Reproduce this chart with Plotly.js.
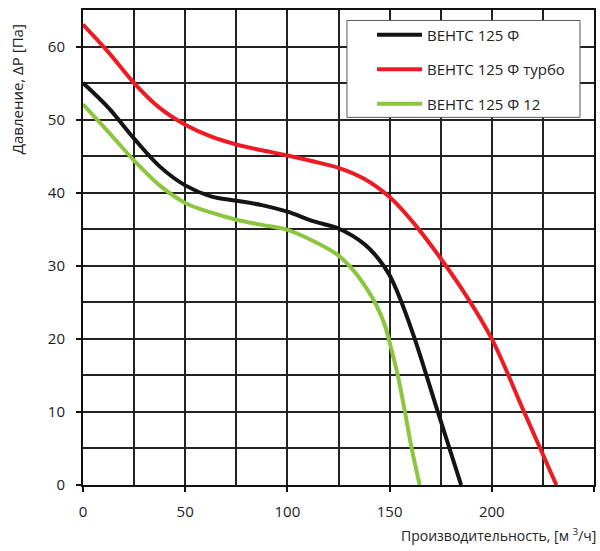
<!DOCTYPE html>
<html>
<head>
<meta charset="utf-8">
<script src="https://cdn.plot.ly/plotly-3.0.1.min.js"></script>
<style>
  body { margin: 0; background: #fff; }
  #chart { width: 600px; height: 551px; }
</style>
</head>
<body>
<div id="chart"></div>
<script>
// расход, м3/ч и давление, Па
let qBase = [0, 12.5, 25, 37.5, 50, 62.5, 75, 87.5, 100, 112.5, 125, 137.5, 145, 150, 155, 162.3, 173.6, 185]
let pBase = [55, 51.6, 47.4, 43.6, 41.0, 39.5, 38.9, 38.3, 37.4, 36.1, 35.1, 33.0, 30.8, 28.7, 25.6, 20, 10, 0]

let qTurbo = [0, 12.5, 25, 37.5, 50, 62.5, 75, 87.5, 100, 112.5, 125, 137.5, 150, 162.5, 175, 187.5, 200, 215.8, 231.6]
let pTurbo = [63, 59.2, 55, 51.6, 49.3, 47.7, 46.6, 45.8, 45.1, 44.3, 43.4, 41.9, 39.4, 35.6, 31.0, 25.9, 20, 10, 0]

let q12 = [0, 12.5, 25, 37.5, 50, 62.5, 75, 87.5, 100, 112.5, 125, 132.5, 138.5, 143.5, 147.5, 150.5, 154, 157.3, 160.8, 164.7]
let p12 = [52.1, 48.3, 44.4, 41, 38.6, 37.3, 36.3, 35.6, 34.9, 33.4, 31.4, 29.3, 27, 24.6, 22, 19, 15, 10.3, 5, 0]

let names = ['ВЕНТС 125 Ф', 'ВЕНТС 125 Ф турбо', 'ВЕНТС 125 Ф 12']
let colors = ['#141414', '#ec1c24', '#8cc63f']

let fontName = '"Open Sans", "DejaVu Sans", sans-serif'

function makeTrace(x, y, i) {
    return {
        x: x,
        y: y,
        mode: 'lines',
        line: {color: colors[i], width: 4, shape: 'spline', smoothing: 1},
        name: names[i],
        legendgroup: 'g' + i
    }
}

var veri = [
    makeTrace(qBase, pBase, 0),
    makeTrace(qTurbo, pTurbo, 1),
    makeTrace(q12, p12, 2)
]

var layout = {
    width: 600,
    height: 551,
    margin: {l: 83, r: 6, t: 10, b: 66},
    paper_bgcolor: '#fff',
    plot_bgcolor: '#fff',
    font: {family: fontName, size: 15, color: '#222'},
    showlegend: true,

    xaxis: {
        range: [0, 250],
        dtick: 50,
        tick0: 0,
        showgrid: true,
        gridcolor: '#222',
        gridwidth: 1.5,
        minor: {dtick: 25, showgrid: true, gridcolor: '#222', gridwidth: 1.5},
        zeroline: false,
        showline: true,
        mirror: true,
        linecolor: '#111',
        linewidth: 2,
        ticks: 'outside',
        ticklen: 5,
        tickwidth: 1.5,
        tickcolor: '#111',
        ticklabelstandoff: 7
    },

    yaxis: {
        range: [0, 65],
        dtick: 10,
        tick0: 0,
        showgrid: true,
        gridcolor: '#222',
        gridwidth: 1.5,
        minor: {dtick: 5, showgrid: true, gridcolor: '#222', gridwidth: 1.5},
        zeroline: false,
        showline: true,
        mirror: true,
        linecolor: '#111',
        linewidth: 2,
        ticks: 'outside',
        ticklen: 5,
        tickwidth: 1.5,
        tickcolor: '#111',
        ticklabelstandoff: 8
    },

    // рамка легенды
    shapes: [
        {
            type: 'rect',
            xref: 'paper', yref: 'paper',
            x0: 0.5166, x1: 0.9726,
            y0: 0.774, y1: 0.978,
            line: {color: '#555', width: 1},
            fillcolor: '#fff',
            layer: 'above'
        }
    ],

    legend: {
        x: 0.5656,
        y: 0.982,
        xanchor: 'left',
        yanchor: 'top',
        bgcolor: 'rgba(0,0,0,0)',
        borderwidth: 0,
        font: {family: fontName, size: 15, color: '#222'},
        traceorder: 'grouped',
        tracegroupgap: 12,
        itemwidth: 45
    },

    annotations: [
        {
            text: 'Давление, ΔP [Па]',
            xref: 'paper', yref: 'paper',
            x: 0, y: 0.833,
            xshift: -66,
            xanchor: 'center', yanchor: 'middle',
            textangle: -90,
            showarrow: false,
            font: {family: fontName, size: 15, color: '#222'}
        },
        {
            text: 'Производительность, [м <sup>3</sup>/ч]',
            xref: 'paper', yref: 'paper',
            x: 1, y: -0.105,
            xshift: 4,
            xanchor: 'right', yanchor: 'middle',
            showarrow: false,
            font: {family: fontName, size: 14, color: '#222'}
        }
    ]
}

Plotly.newPlot('chart', veri, layout, {displayModeBar: false})
</script>
</body>
</html>
